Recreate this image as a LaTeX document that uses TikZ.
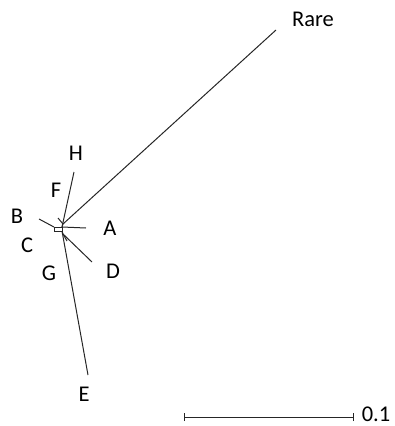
\documentclass[tikz,border=0pt]{standalone}
\usepackage{fontspec}
\setmainfont{Carlito}
\begin{document}
\begin{tikzpicture}[x=1pt,y=-1pt,
  branch/.style={draw=black!85,line width=1pt},
  lbl/.style={font=\fontsize{22.5}{26}\selectfont,inner sep=0pt,anchor=center}]
\useasboundingbox (0,0) rectangle (395,426);
% internal coordinates
\coordinate (root) at (62,227);
\coordinate (n1) at (63,224);
\coordinate (n2) at (62,231);
\coordinate (n3) at (63,234);
% tips
\coordinate (tRare) at (276,30);
\coordinate (tH) at (74,172);
\coordinate (tF) at (58,218);
\coordinate (tB) at (39,219);
\coordinate (tA) at (86,228);
\coordinate (tD) at (92,262);
\coordinate (tE) at (88,375);
\coordinate (tG) at (67,241);
% branches
\draw[branch] (root) -- (n1);
\draw[branch] (n1) -- (tRare);
\draw[branch] (root) -- (tH);
\draw[branch] (n1) -- (tF);
\draw[branch] (54,227) rectangle (root |- n2);
\draw[branch] (tB) -- (54,227);
\draw[branch] (root) -- (tA);
\draw[branch] (n2) -- (n3);
\draw[branch] (n3) -- (tD);
\draw[branch] (n2) -- (tE);
\draw[branch] (n3) -- (tG);
% labels
\node[lbl] (Rare) at (313,19) {Rare};
\node[lbl] (H) at (76,153) {H};
\node[lbl] (F) at (56,190) {F};
\node[lbl] (B) at (17,216) {B};
\node[lbl] (C) at (27,245) {C};
\node[lbl] (G) at (49,273) {G};
\node[lbl] (A) at (110,228) {A};
\node[lbl] (D) at (113,271) {D};
\node[lbl] (E) at (84,394) {E};
% scale bar
\coordinate (s1) at (184,417);
\coordinate (s2) at (353,417);
\draw[branch] (s1) -- (s2);
\draw[branch] ([yshift=-4pt]s1) -- ([yshift=4pt]s1);
\draw[branch] ([yshift=-4pt]s2) -- ([yshift=4pt]s2);
\node[lbl,anchor=base,text depth=0pt] (scale) at (376,421) {0.1};
\end{tikzpicture}
\end{document}
